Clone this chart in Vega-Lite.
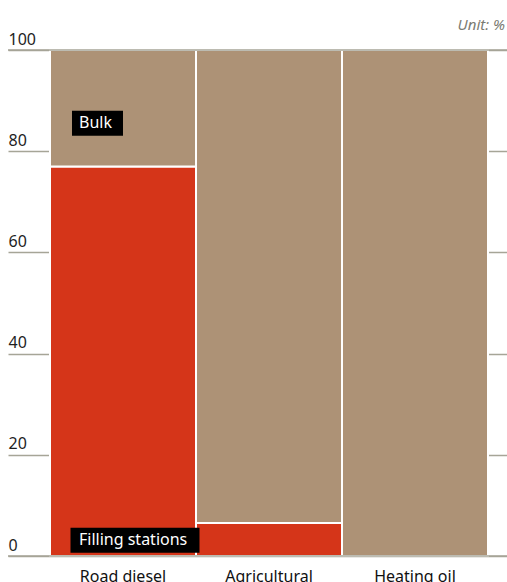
{
  "$schema": "https://vega.github.io/schema/vega-lite/v6.json",
  "width": 499,
  "height": 506,
  "autosize": "none",
  "padding": {"left": 8, "right": 0, "top": 50, "bottom": 26},
  "background": "white",
  "config": {
    "view": {"stroke": null},
    "font": "Noto Sans"
  },
  "title": {
    "text": "Unit: %",
    "anchor": "end",
    "frame": "group",
    "fontStyle": "italic",
    "fontWeight": "normal",
    "fontSize": 15,
    "color": "#7b7b72",
    "font": "Noto Sans",
    "offset": 4,
    "dx": -2,
    "dy": 6
  },
  "datasets": {
    "shares": [
      {"product": "Road diesel", "type": "Filling stations", "share": 77},
      {"product": "Road diesel", "type": "Bulk", "share": 23},
      {"product": "Agricultural", "type": "Filling stations", "share": 6.5},
      {"product": "Agricultural", "type": "Bulk", "share": 93.5},
      {"product": "Heating oil", "type": "Filling stations", "share": 0},
      {"product": "Heating oil", "type": "Bulk", "share": 100}
    ],
    "frame": [{"level": 0}, {"level": 100}],
    "labels": [
      {"product": "Road diesel", "label": "Bulk", "pos": 85.5},
      {"product": "Road diesel", "label": "Filling stations", "pos": 3.1}
    ]
  },
  "layer": [
    {
      "data": {"name": "shares"},
      "mark": {"type": "bar", "stroke": "white", "strokeWidth": 2},
      "encoding": {
        "x": {
          "field": "product",
          "type": "nominal",
          "sort": ["Road diesel", "Agricultural", "Heating oil"],
          "scale": {"paddingInner": 0, "paddingOuter": 0.2089, "align": 0.6885},
          "axis": {
            "title": null,
            "domain": false,
            "ticks": false,
            "labelAngle": 0,
            "labelFontSize": 16,
            "labelColor": "#111",
            "labelPadding": 12,
            "labelBaseline": "top"
          }
        },
        "y": {
          "field": "share",
          "type": "quantitative",
          "stack": "zero",
          "scale": {"domain": [0, 100], "nice": false},
          "axis": {
            "title": null,
            "values": [0, 20, 40, 60, 80, 100],
            "domain": false,
            "ticks": false,
            "tickSize": 0,
            "grid": true,
            "gridColor": "#a6a597",
            "gridWidth": 1.5,
            "labelAlign": "left",
            "labelBaseline": "alphabetic",
            "labelPadding": 0,
            "labelOffset": -6,
            "labelFontSize": 16,
            "labelColor": "#1e1e1e"
          }
        },
        "color": {
          "field": "type",
          "type": "nominal",
          "scale": {"domain": ["Filling stations", "Bulk"], "range": ["#d53519", "#ad9276"]},
          "legend": null
        },
        "order": {"field": "type", "sort": "descending"}
      }
    },
    {
      "data": {"name": "frame"},
      "mark": {"type": "rule", "color": "#a6a597", "strokeWidth": 1.5},
      "encoding": {
        "y": {"field": "level", "type": "quantitative"}
      }
    },
    {
      "data": {"name": "labels"},
      "transform": [{"filter": "datum.label === 'Bulk'"}],
      "mark": {"type": "rect", "color": "black", "width": 51, "height": 25, "xOffset": -25.5},
      "encoding": {
        "x": {"field": "product", "type": "nominal", "sort": ["Road diesel", "Agricultural", "Heating oil"]},
        "y": {"field": "pos", "type": "quantitative"}
      }
    },
    {
      "data": {"name": "labels"},
      "transform": [{"filter": "datum.label === 'Filling stations'"}],
      "mark": {"type": "rect", "color": "black", "width": 129, "height": 25, "xOffset": 12},
      "encoding": {
        "x": {"field": "product", "type": "nominal", "sort": ["Road diesel", "Agricultural", "Heating oil"]},
        "y": {"field": "pos", "type": "quantitative"}
      }
    },
    {
      "data": {"name": "labels"},
      "mark": {"type": "text", "color": "white", "fontSize": 16, "align": "left", "baseline": "middle", "dx": -44, "font": "Noto Sans"},
      "encoding": {
        "x": {"field": "product", "type": "nominal", "sort": ["Road diesel", "Agricultural", "Heating oil"]},
        "y": {"field": "pos", "type": "quantitative"},
        "text": {"field": "label"}
      }
    }
  ]
}
